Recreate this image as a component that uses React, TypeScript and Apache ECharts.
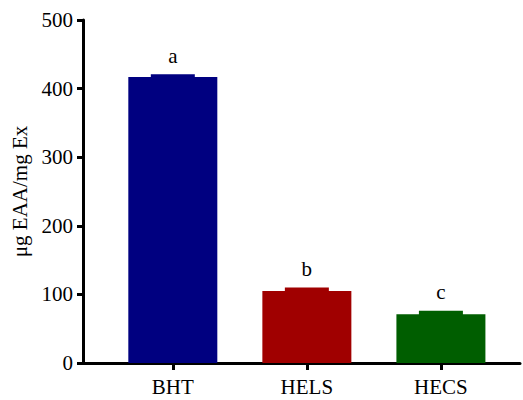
import React, { useEffect, useRef } from "react";
import * as echarts from "echarts";

const categories = ["BHT", "HELS", "HECS"];
const positions = [1, 2, 3];
const means = [417, 105, 71];
const sds = [4, 5, 5];
const letters = ["a", "b", "c"];
const colors = ["#000080", "#a00000", "#005e00"];
const yTicks = [0, 100, 200, 300, 400, 500];

const FONT = "Liberation Serif, serif";

export default function App() {
  const ref = useRef<HTMLDivElement>(null);
  useEffect(() => {
    if (!ref.current) return;
    const chart = echarts.init(ref.current, null, { renderer: "svg" });
    const barData = positions.map((p, i) => ({
      value: [p, means[i]],
      itemStyle: { color: colors[i] },
    }));
    const errData = positions.map((p, i) => [p, means[i], sds[i], i]);
    chart.setOption({
      animation: false,
      backgroundColor: "#ffffff",
      textStyle: { fontFamily: FONT },
      grid: { left: 83, right: 3, top: 20, bottom: 37, containLabel: false, outerBoundsMode: "none" },
      xAxis: {
        type: "value",
        min: 0.33,
        max: 3.59,
        splitLine: { show: false },
        axisLine: { show: true, lineStyle: { color: "#000", width: 3 } },
        axisTick: { show: true, customValues: positions, length: 7, lineStyle: { color: "#000", width: 3 } },
        axisLabel: {
          customValues: positions,
          formatter: (v: number) => categories[Math.round(v) - 1] ?? "",
          fontFamily: FONT,
          fontSize: 21,
          color: "#000",
          margin: 13,
        },
      },
      yAxis: {
        type: "value",
        min: yTicks[0],
        max: yTicks[yTicks.length - 1],
        interval: 100,
        name: "μg EAA/mg Ex",
        nameLocation: "middle",
        nameGap: 52,
        nameRotate: 90,
        nameTextStyle: { fontFamily: FONT, fontSize: 21, color: "#000" },
        splitLine: { show: false },
        axisLine: { show: true, lineStyle: { color: "#000", width: 3 } },
        axisTick: { show: true, length: 6, lineStyle: { color: "#000", width: 3 } },
        axisLabel: { fontFamily: FONT, fontSize: 21, color: "#000", margin: 10 },
      },
      series: [
        {
          type: "bar",
          data: barData,
          barWidth: 89,
          z: 2,
        },
        {
          type: "custom",
          z: 3,
          data: errData,
          encode: { x: 0, y: 1 },
          renderItem: (params: any, api: any) => {
            const x = api.value(0);
            const m = api.value(1);
            const s = api.value(2);
            const idx = api.value(3);
            const p0 = api.coord([x, m]);
            const p1 = api.coord([x, m + s]);
            return {
              type: "group",
              children: [
                {
                  type: "rect",
                  shape: { x: p0[0] - 22, y: p1[1], width: 44, height: p0[1] - p1[1] + 1 },
                  style: { fill: colors[idx] },
                },
                {
                  type: "text",
                  x: p1[0],
                  y: p1[1] - 8,
                  style: {
                    text: letters[idx],
                    fontFamily: FONT,
                    fontSize: 21,
                    fill: "#000",
                    align: "center",
                    verticalAlign: "bottom",
                  },
                },
              ],
            };
          },
        },
      ],
    });
    return () => chart.dispose();
  }, []);
  return (
    <div
      ref={ref}
      style={{ position: "fixed", left: 0, top: 0, width: 523, height: 400 }}
    />
  );
}
